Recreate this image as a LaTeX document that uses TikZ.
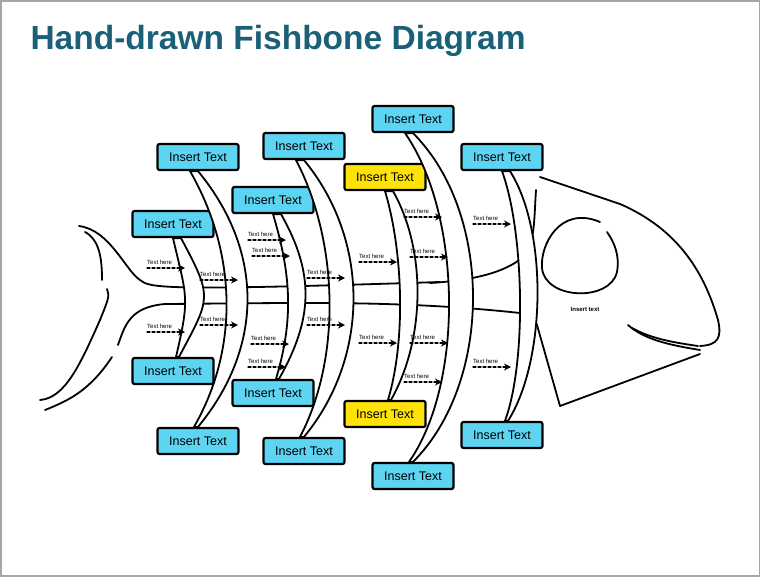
\documentclass[tikz,border=0pt]{standalone}
\usepackage{fontspec}
\setmainfont{Liberation Sans}
\usetikzlibrary{arrows.meta}
\begin{document}
\begin{tikzpicture}[x=1pt,y=-1pt,line cap=round,line join=round,
  box/.style={draw=black,line width=2.2pt,rounded corners=2pt,fill=cyanbox,minimum width=81pt,minimum height=26pt,inner sep=0pt,font=\fontsize{12.5}{12.5}\selectfont},
  ybox/.style={box,fill=yelbox},
  ln/.style={line width=1.8pt},
  bone/.style={line width=1.8pt,fill=white},
  th/.style={font=\fontsize{6}{6}\selectfont,inner sep=0pt},
  arr/.style={line width=1.3pt,-{Stealth[length=7pt,width=7pt]},dash pattern=on 3pt off 2pt}]
\definecolor{cyanbox}{HTML}{5CD4F2}
\definecolor{yelbox}{HTML}{FFE20A}
\definecolor{teal}{HTML}{1B6079}
\useasboundingbox (0,0) rectangle (760,576);
\fill[white] (0,0) rectangle (760,576);
\draw[gray!70,line width=3pt] (0,0) rectangle (760,576);
\node[anchor=west,font=\fontsize{33.5}{33.5}\selectfont\bfseries,text=teal] (title) at (27,41) {Hand-drawn Fishbone Diagram};
% tail
\draw[ln] (79,226) .. controls (110,230) and (125,270) .. (140,280) .. controls (150,288) and (160,291) .. (440,282);
\draw[ln] (85,232) .. controls (100,240) and (102,260) .. (102,280);
\draw[ln] (107,289) .. controls (110,296) and (108,300) .. (100,320) .. controls (80,365) and (65,398) .. (40,400);
\draw[ln] (520,313) .. controls (400,300) and (300,303) .. (165,304) .. controls (130,307) and (125,325) .. (118,345);
\draw[ln] (112,357) .. controls (90,390) and (70,400) .. (45,410);
% head
\draw[ln] (430,283) .. controls (480,280) and (510,270) .. (525,255) .. controls (535,240) and (534,220) .. (536,190);
\draw[ln] (520,313) .. controls (530,316) and (535,318) .. (537,325) -- (560,406) -- (700,354);
\draw[ln] (540,177) -- (620,204) .. controls (680,230) and (705,275) .. (718,320) .. controls (722,338) and (718,345) .. (700,346);
\draw[ln] (628,325) .. controls (645,340) and (670,345) .. (700,350);
\draw[ln] (632,328) .. controls (650,338) and (670,342) .. (698,346);
\draw[ln] (600,222) .. controls (560,205) and (540,245) .. (542,268) .. controls (545,300) and (610,302) .. (617,272) .. controls (620,255) and (614,242) .. (607,232);
\node[font=\fontsize{6}{6}\selectfont\bfseries] (head) at (585,309) {Insert text};
% boxes
\node[box] (A1) at (173,224) {Insert Text};
\node[box] (A2) at (198,157) {Insert Text};
\node[box] (A3) at (273,200) {Insert Text};
\node[box] (A4) at (304,146) {Insert Text};
\node[ybox] (A5) at (385,177) {Insert Text};
\node[box] (A6) at (413,119) {Insert Text};
\node[box] (A7) at (502,157) {Insert Text};
\node[box] (B1) at (173,371) {Insert Text};
\node[box] (B2) at (198,441) {Insert Text};
\node[box] (B3) at (273,393) {Insert Text};
\node[box] (B4) at (304,451) {Insert Text};
\node[ybox] (B5) at (385,414) {Insert Text};
\node[box] (B6) at (413,476) {Insert Text};
\node[box] (B7) at (502,435) {Insert Text};
% bones
\newcommand\fbone[4]{\draw[bone] ([xshift=0pt]#1.south) .. controls +(#3,60) and +(#3,-60) .. ([xshift=3pt]#2.north) -- ([xshift=6pt]#2.north) .. controls +(#4,-60) and +(#4,60) .. ([xshift=8pt]#1.south) -- cycle;}
\newcommand\fboneL[4]{\draw[bone] ([xshift=-8pt]#1.south) .. controls +(#3,80) and +(#3,-80) .. ([xshift=-4pt]#2.north) -- ([xshift=0pt]#2.north) .. controls +(#4,-80) and +(#4,80) .. ([xshift=0pt]#1.south) -- cycle;}
\fbone{A1}{B1}{14}{32}
\fboneL{A2}{B2}{46}{66}
\fbone{A3}{B3}{18}{34}
\fboneL{A4}{B4}{42}{66}
\fbone{A5}{B5}{18}{34}
\fboneL{A6}{B6}{56}{80}
\fbone{A7}{B7}{22}{38}
% text here arrows
\foreach \x/\y/\n in {147/268/t1,200/280/t2,147/332/t3,200/325/t4,248/240/t5,252/256/t6,248/367/t7,251/344/t8,307/278/t9,307/325/t10,359/262/t11,359/343/t12,404/217/t13,410/257/t14,410/343/t15,404/382/t16,473/224/t17,473/367/t18}{
  \coordinate (\n s) at (\x,\y);
  \coordinate (\n e) at (\x+38,\y);
  \draw[arr] (\n s) -- (\n e);
  \node[th,anchor=south west] (\n l) at (\x,\y-3) {Text here};
}
\end{tikzpicture}
\end{document}
